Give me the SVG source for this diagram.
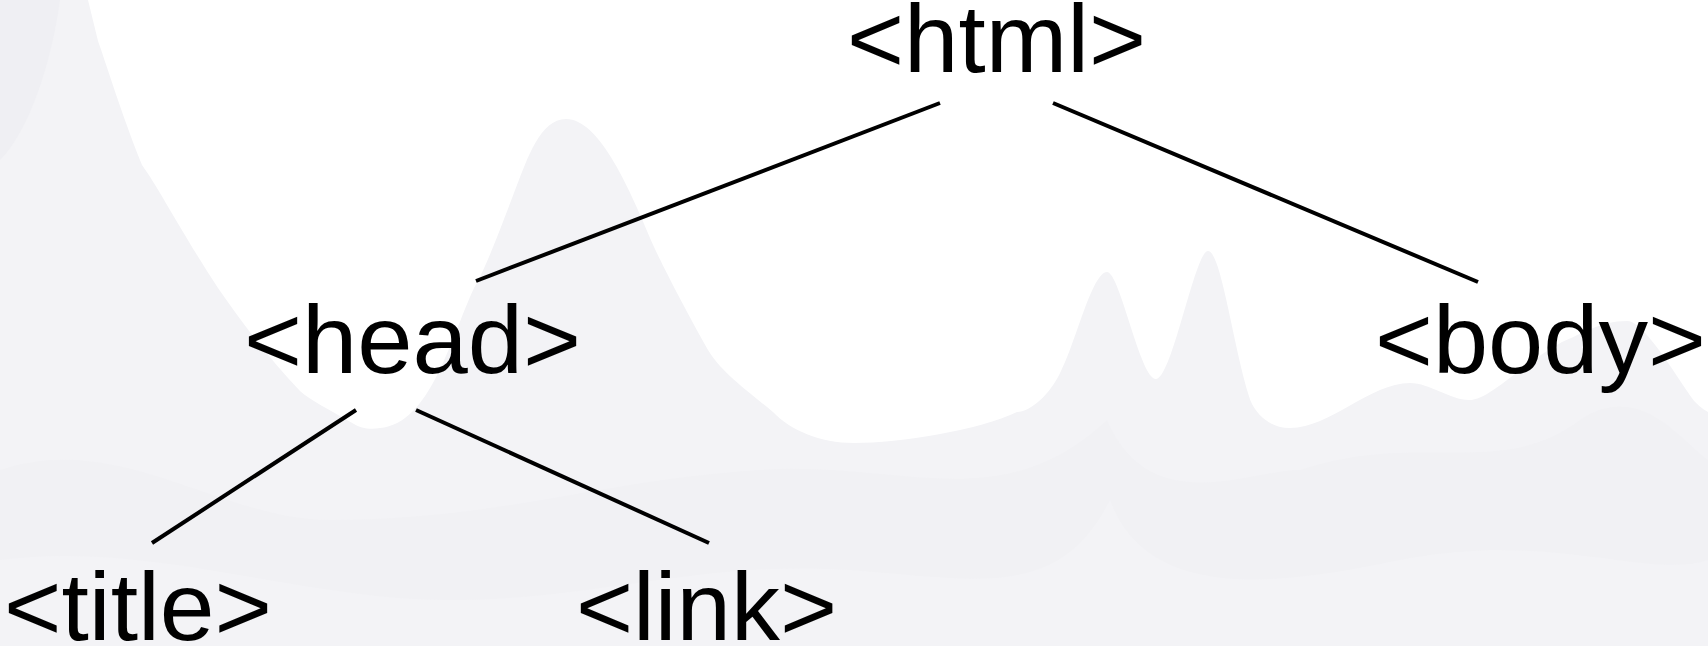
<svg xmlns="http://www.w3.org/2000/svg" width="1708" height="646" viewBox="0 0 1708 646">
  <style>
    .lbl { font-family: "Liberation Sans", Arial, sans-serif; font-weight: 300; font-size: 97px; fill: #000; text-anchor: middle; }
    .edge { stroke: #000; stroke-width: 4; fill: none; stroke-linecap: butt; }
  </style>
  <g id="background">
    <rect x="0" y="0" width="1708" height="646" fill="#f3f3f6"/>
    <path d="M0 0 L60 0 C52 60 30 130 0 160 Z" fill="#efeff3"/>
    <path d="M0 470 C120 430 220 520 330 520 C500 520 600 480 760 470 C900 460 1000 520 1107 420 C1150 520 1250 470 1300 470 C1420 430 1500 480 1580 420 C1640 380 1680 440 1708 460 L1708 646 L0 646 Z" fill="#f1f1f4"/>
    <path d="M0 560 C150 540 300 600 450 600 C600 600 700 560 850 570 C980 580 1060 600 1110 500 C1150 610 1300 580 1400 560 C1550 530 1650 580 1708 560 L1708 646 L0 646 Z" fill="#f3f3f6"/>
    <path d="M88 0 L1708 0 L1708 412 C1695 405 1690 395 1687 391 C1660 350 1640 321 1627 321 C1600 321 1580 335 1562 342 C1520 365 1490 400 1469 400 C1450 400 1430 383 1410 383 C1370 383 1330 428 1290 428 C1270 428 1258 415 1252 404 C1235 360 1222 251 1208 251 C1195 251 1172 379 1156 379 C1140 379 1120 272 1107 272 C1092 272 1075 345 1061 371 C1050 395 1030 412 1017 412 C980 430 900 443 854 443 C820 443 790 430 773 412 C740 385 720 370 708 350 C680 300 660 260 654 247 C630 190 600 119 566 119 C540 119 527 160 517 185 C500 230 485 270 474 288 C450 340 430 424 380 428 C370 430 360 428 354 424 C330 410 310 400 300 391 C270 360 240 320 218 288 C180 230 160 190 142 165 C120 110 105 60 98 41 Z" fill="#ffffff"/>
  </g>
  <g id="connectors">
    <line class="edge" x1="940" y1="103" x2="476" y2="281"/>
    <line class="edge" x1="1053" y1="103" x2="1478" y2="282"/>
    <line class="edge" x1="356" y1="410" x2="152" y2="543"/>
    <line class="edge" x1="416" y1="410" x2="709" y2="543"/>
  </g>
  <g id="node-html"><text class="lbl" x="996.5" y="72" textLength="299" lengthAdjust="spacingAndGlyphs">&lt;html&gt;</text></g>
  <g id="node-head"><text class="lbl" x="412.5" y="373" textLength="337" lengthAdjust="spacingAndGlyphs">&lt;head&gt;</text></g>
  <g id="node-body"><text class="lbl" x="1540.5" y="373" textLength="331" lengthAdjust="spacingAndGlyphs">&lt;body&gt;</text></g>
  <g id="node-title"><text class="lbl" x="138" y="640" textLength="268" lengthAdjust="spacingAndGlyphs">&lt;title&gt;</text></g>
  <g id="node-link"><text class="lbl" x="706.5" y="640" textLength="261" lengthAdjust="spacingAndGlyphs">&lt;link&gt;</text></g>
</svg>
